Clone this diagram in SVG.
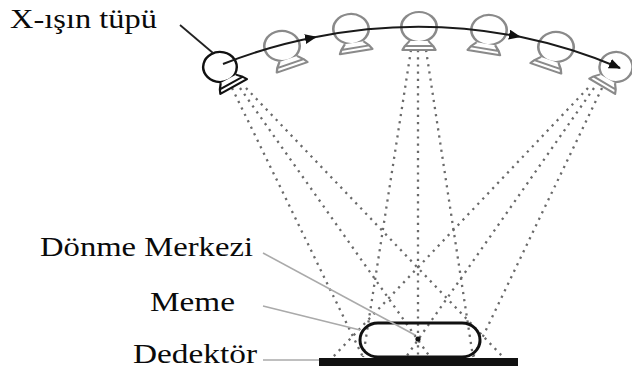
<svg xmlns="http://www.w3.org/2000/svg" xmlns:xlink="http://www.w3.org/1999/xlink" width="632" height="368" viewBox="0 0 632 368">
  <style>
    .label { font-family: "Liberation Serif", "Times New Roman", serif; font-size: 26.5px; fill: #0a0a0a; }
    .ray { fill: none; stroke: #6a6a6a; stroke-width: 2.3; stroke-dasharray: 2.2 5; }
    .path { fill: none; stroke: #1a1a1a; stroke-width: 2; }
    .lead { fill: none; stroke: #aaa; stroke-width: 1.6; }
    .tube-g { stroke: #8a8a8a; }
    .tube-k { stroke: #111; }
  </style>
  <defs>
    <!-- x-ray tube: round housing with a port facing the rotation centre (local +y) -->
    <g id="tube">
      <circle cx="0" cy="0" r="15" fill="#fff" stroke-width="2.2"/>
      <path d="M-8,14 L-12,19 L-14,23 L14,23 L12,19 L8,14 M-12,19 L12,19" fill="#fff" stroke-width="2" stroke-linejoin="round"/>
    </g>
    <marker id="arrow" viewBox="0 0 12 10" refX="11" refY="5" markerWidth="12" markerHeight="10" markerUnits="userSpaceOnUse" orient="auto">
      <path d="M0,0 L12,5 L0,10 Z" fill="#111"/>
    </marker>
  </defs>

  <rect width="632" height="368" fill="#fff"/>

  <!-- beams from the three exposure positions -->
  <g id="beams">
    <line class="ray" x1="232" y1="88" x2="363" y2="357"/>
    <line class="ray" x1="240" y1="88" x2="430" y2="357"/>
    <line class="ray" x1="246" y1="88" x2="503" y2="357"/>
    <line class="ray" x1="411" y1="50" x2="363" y2="357"/>
    <line class="ray" x1="418" y1="50" x2="418" y2="357"/>
    <line class="ray" x1="426" y1="50" x2="473" y2="357"/>
    <line class="ray" x1="602" y1="88" x2="473" y2="357"/>
    <line class="ray" x1="594" y1="88" x2="406" y2="357"/>
    <line class="ray" x1="588" y1="88" x2="333" y2="357"/>
  </g>

  <!-- tube positions along the sweep -->
  <g id="tube-start"><use xlink:href="#tube" class="tube-k" transform="translate(220,67) scale(1.12,1) rotate(-32)"/></g>
  <g id="tube-2"><use xlink:href="#tube" class="tube-g" transform="translate(282,46) scale(1.18,1) rotate(-22)"/></g>
  <g id="tube-3"><use xlink:href="#tube" class="tube-g" transform="translate(351,29) scale(1.18,1) rotate(-11)"/></g>
  <g id="tube-4"><use xlink:href="#tube" class="tube-g" transform="translate(419,27) scale(1.18,1)"/></g>
  <g id="tube-5"><use xlink:href="#tube" class="tube-g" transform="translate(489,30) scale(1.18,1) rotate(11)"/></g>
  <g id="tube-6"><use xlink:href="#tube" class="tube-g" transform="translate(556,47) scale(1.18,1) rotate(22)"/></g>
  <g id="tube-end"><use xlink:href="#tube" class="tube-g" transform="translate(616,67) scale(1.1,1) rotate(33)"/></g>

  <!-- breast and detector -->
  <g id="breast">
    <rect x="360" y="323" width="120" height="34" rx="18" ry="17" fill="none" stroke="#111" stroke-width="3"/>
    <circle cx="418" cy="339" r="2.6" fill="#111"/>
  </g>
  <g id="detector">
    <rect x="319" y="358" width="199" height="8" fill="#111"/>
  </g>

  <!-- sweep path and leader lines -->
  <g id="connectors">
    <path class="path" d="M223,64 A520,520 0 0 1 316,37" marker-end="url(#arrow)"/>
    <path class="path" d="M316,37 A520,520 0 0 1 520,36.8" marker-end="url(#arrow)"/>
    <path class="path" d="M520,36.8 A520,520 0 0 1 620,68" marker-end="url(#arrow)"/>
    <line x1="180" y1="25" x2="213" y2="53" stroke="#222" stroke-width="1.8"/>
    <line class="lead" x1="263" y1="253" x2="415" y2="335"/>
    <line class="lead" x1="263" y1="306" x2="360" y2="330"/>
    <line class="lead" x1="263" y1="360" x2="319" y2="360"/>
  </g>

  <!-- labels -->
  <g id="labels">
    <text class="label" x="10" y="28" textLength="147" lengthAdjust="spacingAndGlyphs">X-ışın tüpü</text>
    <text class="label" x="40" y="256" textLength="213" lengthAdjust="spacingAndGlyphs">Dönme Merkezi</text>
    <text class="label" x="150" y="311" textLength="85" lengthAdjust="spacingAndGlyphs">Meme</text>
    <text class="label" x="133" y="363" textLength="124" lengthAdjust="spacingAndGlyphs">Dedektör</text>
  </g>
</svg>
